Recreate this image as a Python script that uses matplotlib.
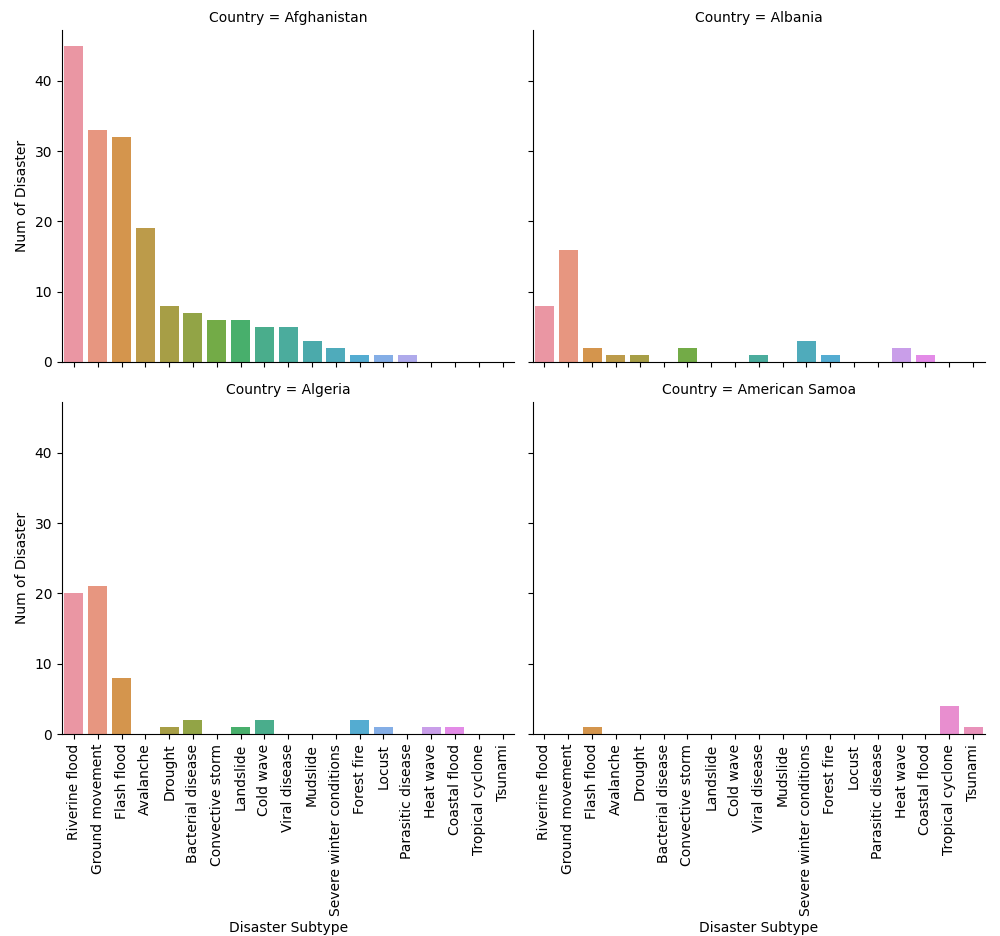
import matplotlib

matplotlib.use("Agg")
import matplotlib.pyplot as plt
import pandas as pd
import seaborn as sns

subtypes = [
    "Riverine flood", "Ground movement", "Flash flood", "Avalanche", "Drought",
    "Bacterial disease", "Convective storm", "Landslide", "Cold wave",
    "Viral disease", "Mudslide", "Severe winter conditions", "Forest fire",
    "Locust", "Parasitic disease", "Heat wave", "Coastal flood",
    "Tropical cyclone", "Tsunami",
]
countries = ["Afghanistan", "Albania", "Algeria", "American Samoa"]

afghanistan = [45, 33, 32, 19, 8, 7, 6, 6, 5, 5, 3, 2, 1, 1, 1, 0, 0, 0, 0]
albania = [8, 16, 2, 1, 1, 0, 2, 0, 0, 1, 0, 3, 1, 0, 0, 2, 1, 0, 0]
algeria = [20, 21, 8, 0, 1, 2, 0, 1, 2, 0, 0, 0, 2, 1, 0, 1, 1, 0, 0]
american_samoa = [0, 0, 1, 0, 0, 0, 0, 0, 0, 0, 0, 0, 0, 0, 0, 0, 0, 4, 1]

counts = [afghanistan, albania, algeria, american_samoa]
rows = []
for country, vals in zip(countries, counts):
    for sub, v in zip(subtypes, vals):
        rows.append({"Country": country, "Disaster Subtype": sub, "Num of Disaster": v})
df = pd.DataFrame(rows)

# old seaborn default for many categories: husl at l=.7, then desaturated
palette = sns.husl_palette(len(subtypes), l=.7)

g = sns.catplot(
    data=df, kind="bar", x="Disaster Subtype", y="Num of Disaster",
    hue="Disaster Subtype", palette=palette, legend=False, saturation=0.75,
    col="Country", col_wrap=2, order=subtypes, hue_order=subtypes,
    height=4.68, aspect=1000 / 936,
)
for ax in g.axes.flat:
    ax.tick_params(axis="x", labelrotation=90)
g.figure.set_size_inches(10, 9.36)
g.figure.subplots_adjust(left=0.062, right=0.985, top=0.968, bottom=0.2158,
                         wspace=0.04, hspace=0.1205)
g.figure.savefig("out.png", dpi=100)
